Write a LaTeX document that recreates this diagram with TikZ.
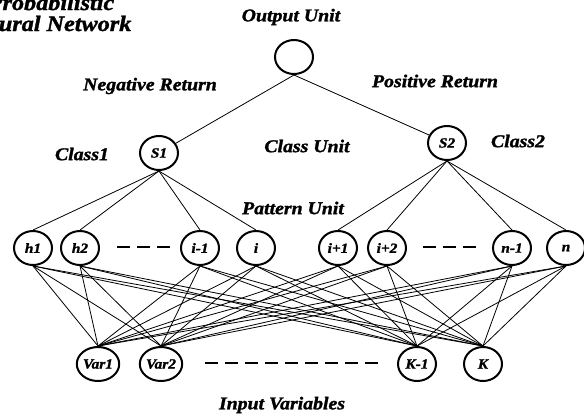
\documentclass[tikz,border=0pt]{standalone}
\usepackage{fontspec}
\setmainfont{Liberation Serif}[FakeStretch=1.1, BoldItalicFeatures={FakeBold=1.5}]
\usetikzlibrary{shapes.geometric}
\begin{document}
\begin{tikzpicture}[x=1pt,y=-1pt,
  unit/.style={ellipse, draw, line width=2pt, minimum width=38pt, minimum height=34pt, inner sep=0pt,
    font=\fontsize{14}{16}\selectfont\bfseries\itshape},
  lbl/.style={font=\fontsize{18}{21}\selectfont\bfseries\itshape, inner sep=0pt},
  conn/.style={line width=0.8pt},
  dots/.style={line width=2.8pt, dash pattern=on 13pt off 7pt}]
\useasboundingbox (0,0) rectangle (584,416);
\clip (0,0) rectangle (584,416);
% title
\node[font=\fontsize{22}{21}\selectfont\bfseries\itshape, align=center, inner sep=0pt, anchor=base] (title) at (51,31) {Probabilistic\\Neural Network};
% labels
\node[lbl] (lout) at (291,17) {Output Unit};
\node[lbl] (lneg) at (150,86) {Negative Return};
\node[lbl] (lpos) at (435,81) {Positive Return};
\node[lbl] (lc1) at (82,154) {Class1};
\node[lbl] (lcu) at (307,146) {Class Unit};
\node[lbl] (lc2) at (518,141) {Class2};
\node[lbl] (lpu) at (293,208) {Pattern Unit};
\node[lbl] (lin) at (282,405) {Input Variables};
% units
\node[unit] (out) at (294,57) {};
\node[unit] (s1) at (159,153) {S1};
\node[unit] (s2) at (447,143) {S2};
\foreach \n/\x/\t in {h1/33/h1, h2/80/h2, im1/200/i-1, i/256/i, ip1/338/i+1, ip2/387/i+2, nm1/512/n-1, n/566/n}
  \node[unit] (\n) at (\x,248) {\t};
\foreach \n/\x/\t in {v1/98/Var1, v2/161/Var2, km1/417/K-1, k/483/K}
  \node[unit] (\n) at (\x,364) {\t};
% dashes
\coordinate (d1a) at (117,247); \coordinate (d1b) at (172,247);
\coordinate (d2a) at (423,247); \coordinate (d2b) at (478,247);
\coordinate (d3a) at (205,363); \coordinate (d3b) at (382,363);
\draw[dots] (d1a) -- (d1b);
\draw[dots] (d2a) -- (d2b);
\draw[dots] (d3a) -- (d3b);
% connectors
\draw[conn] (out.south) -- (s1);
\draw[conn] (out.south) -- (s2);
\foreach \p in {h1,h2,im1,i} \draw[conn] (s1.south) -- (\p.north);
\foreach \p in {ip1,ip2,nm1,n} \draw[conn] (s2.south) -- (\p.north);
\foreach \p in {h1,h2,im1,i,ip1,ip2,nm1,n}
  \foreach \v in {v1,v2,km1,k}
    \draw[conn] (\p.south) -- (\v.north);
\end{tikzpicture}
\end{document}
